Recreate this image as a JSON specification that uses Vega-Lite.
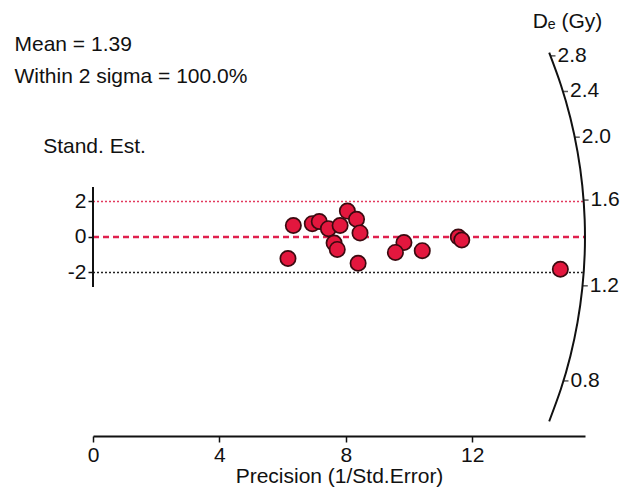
{
  "$schema": "https://vega.github.io/schema/vega-lite/v6.json",
  "width": 492,
  "height": 406,
  "autosize": "none",
  "padding": {"left": 93, "top": 30, "right": 38, "bottom": 52},
  "background": "white",
  "config": {
    "view": {"stroke": null},
    "font": "Liberation Sans",
    "axis": {"labelFont": "Liberation Sans", "titleFont": "Liberation Sans", "labelColor": "#111111", "titleColor": "#111111", "titleFontWeight": "normal", "grid": false}
  },
  "datasets": {
    "pts": [
      {"precision": 6.34, "stdEst": 0.65},
      {"precision": 6.17, "stdEst": -1.21},
      {"precision": 6.94, "stdEst": 0.75},
      {"precision": 7.16, "stdEst": 0.87},
      {"precision": 7.45, "stdEst": 0.47},
      {"precision": 7.82, "stdEst": 0.65},
      {"precision": 8.05, "stdEst": 1.46},
      {"precision": 8.34, "stdEst": 1.0},
      {"precision": 8.45, "stdEst": 0.23},
      {"precision": 7.63, "stdEst": -0.34},
      {"precision": 7.73, "stdEst": -0.7},
      {"precision": 8.39, "stdEst": -1.48},
      {"precision": 9.84, "stdEst": -0.31},
      {"precision": 9.57, "stdEst": -0.87},
      {"precision": 10.42, "stdEst": -0.77},
      {"precision": 11.56, "stdEst": 0.0},
      {"precision": 11.67, "stdEst": -0.17},
      {"precision": 14.79, "stdEst": -1.82}
    ],
    "arc": [
      {"i": 1, "x": 14.437, "y": 10.383},
      {"i": 2, "x": 14.807, "y": 8.565},
      {"i": 3, "x": 15.108, "y": 6.706},
      {"i": 4, "x": 15.333, "y": 4.813},
      {"i": 5, "x": 15.484, "y": 2.898},
      {"i": 6, "x": 15.56, "y": 0.967},
      {"i": 7, "x": 15.56, "y": -0.967},
      {"i": 8, "x": 15.484, "y": -2.898},
      {"i": 9, "x": 15.333, "y": -4.813},
      {"i": 10, "x": 15.108, "y": -6.706},
      {"i": 11, "x": 14.807, "y": -8.565},
      {"i": 12, "x": 14.437, "y": -10.383}
    ],
    "deTicks": [
      {"De": "2.8", "x": 14.478, "y": 10.203},
      {"De": "2.4", "x": 14.873, "y": 8.197},
      {"De": "2.0", "x": 15.247, "y": 5.622},
      {"De": "1.6", "x": 15.525, "y": 2.079},
      {"De": "1.2", "x": 15.5, "y": -2.75},
      {"De": "0.8", "x": 14.889, "y": -8.107}
    ],
    "yline": [{"x": 0, "y": -2.82, "y2": 2.82}],
    "plus2": [{"from": 0, "to": 15.51, "level": 2}],
    "mean": [{"from": 0, "to": 15.57, "level": 0}],
    "minus2": [{"from": 0, "to": 15.5, "level": -2}]
  },
  "layer": [
    {
      "data": {"name": "plus2"},
      "mark": {"type": "rule", "stroke": "#e23a5e", "strokeWidth": 1.6, "strokeDash": [2, 2]},
      "encoding": {
        "x": {"field": "from", "type": "quantitative", "scale": {"domain": [0, 15.57], "nice": false, "zero": false}, "axis": null},
        "x2": {"field": "to"},
        "y": {"field": "level", "type": "quantitative", "scale": {"domain": [-11.21, 11.66], "nice": false, "zero": false}, "axis": null}
      }
    },
    {
      "data": {"name": "mean"},
      "mark": {"type": "rule", "stroke": "#e0204e", "strokeWidth": 2.5, "strokeDash": [6, 4]},
      "encoding": {
        "x": {"field": "from", "type": "quantitative", "scale": {"domain": [0, 15.57], "nice": false, "zero": false}, "axis": null},
        "x2": {"field": "to"},
        "y": {"field": "level", "type": "quantitative", "scale": {"domain": [-11.21, 11.66], "nice": false, "zero": false}, "axis": null}
      }
    },
    {
      "data": {"name": "minus2"},
      "mark": {"type": "rule", "stroke": "#222222", "strokeWidth": 1.6, "strokeDash": [2, 2]},
      "encoding": {
        "x": {"field": "from", "type": "quantitative", "scale": {"domain": [0, 15.57], "nice": false, "zero": false}, "axis": null},
        "x2": {"field": "to"},
        "y": {"field": "level", "type": "quantitative", "scale": {"domain": [-11.21, 11.66], "nice": false, "zero": false}, "axis": null}
      }
    },
    {
      "data": {"name": "yline"},
      "mark": {"type": "rule", "stroke": "#111111", "strokeWidth": 2},
      "encoding": {
        "x": {"field": "x", "type": "quantitative", "scale": {"domain": [0, 15.57], "nice": false, "zero": false}, "axis": null},
        "y": {"field": "y", "type": "quantitative", "scale": {"domain": [-11.21, 11.66], "nice": false, "zero": false}, "axis": null},
        "y2": {"field": "y2"}
      }
    },
    {
      "data": {"name": "arc"},
      "mark": {"type": "line", "interpolate": "natural", "stroke": "#111111", "strokeWidth": 2},
      "encoding": {
        "x": {"field": "x", "type": "quantitative", "scale": {"domain": [0, 15.57], "nice": false, "zero": false},
          "axis": {"orient": "top", "domain": false, "ticks": false, "labels": false,
            "title": ["Mean = 1.39", "Within 2 sigma = 100.0%"], "titleAngle": 0, "titleAlign": "left", "titleBaseline": "alphabetic",
            "titleX": -79, "titleY": 20, "titleLineHeight": 32, "titleFontSize": 21}},
        "y": {"field": "y", "type": "quantitative", "scale": {"domain": [-11.21, 11.66], "nice": false, "zero": false},
          "axis": {"orient": "right", "domain": false, "ticks": false, "labels": false,
            "title": "Dₑ (Gy)", "titleAngle": 0, "titleAlign": "center", "titleBaseline": "alphabetic",
            "titleX": -18, "titleY": -3, "titleFontSize": 21}},
        "order": {"field": "i", "type": "quantitative"}
      }
    },
    {
      "data": {"name": "deTicks"},
      "mark": {"type": "tick", "orient": "horizontal", "size": 5, "thickness": 1.5, "xOffset": 2.5, "color": "#111111"},
      "encoding": {
        "x": {"field": "x", "type": "quantitative", "scale": {"domain": [0, 15.57], "nice": false, "zero": false}, "axis": null},
        "y": {"field": "y", "type": "quantitative", "scale": {"domain": [-11.21, 11.66], "nice": false, "zero": false}, "axis": null}
      }
    },
    {
      "data": {"name": "deTicks"},
      "mark": {"type": "text", "align": "left", "baseline": "middle", "dx": 7, "fontSize": 21, "font": "Liberation Sans", "color": "#111111"},
      "encoding": {
        "x": {"field": "x", "type": "quantitative", "scale": {"domain": [0, 15.57], "nice": false, "zero": false}, "axis": null},
        "y": {"field": "y", "type": "quantitative", "scale": {"domain": [-11.21, 11.66], "nice": false, "zero": false}, "axis": null},
        "text": {"field": "De", "type": "nominal"}
      }
    },
    {
      "data": {"name": "pts"},
      "mark": {"type": "circle", "size": 235, "filled": true, "fill": "#e3173e", "stroke": "#3b0a10", "strokeWidth": 1.7, "opacity": 1},
      "encoding": {
        "x": {"field": "precision", "type": "quantitative", "scale": {"domain": [0, 15.57], "nice": false, "zero": false},
          "axis": {"orient": "bottom", "values": [0, 4, 8, 12], "title": "Precision (1/Std.Error)",
            "domainColor": "#111111", "domainWidth": 2, "tickColor": "#111111", "tickWidth": 1.5, "tickSize": 6,
            "labelFontSize": 21, "labelPadding": 2, "labelFlush": false, "labelBound": false,
            "titleFontSize": 21, "titleY": 46, "titleBaseline": "alphabetic"}},
        "y": {"field": "stdEst", "type": "quantitative", "scale": {"domain": [-11.21, 11.66], "nice": false, "zero": false},
          "axis": {"orient": "left", "values": [-2, 0, 2], "domain": false, "tickColor": "#111111", "tickSize": 5, "tickWidth": 1.5,
            "labelExpr": "datum.value < 0 ? '-' + format(-datum.value, 'd') : format(datum.value, 'd')",
            "labelFontSize": 21, "labelPadding": 2, "labelFlush": false, "labelBound": false,
            "title": "Stand. Est.", "titleAngle": 0, "titleAlign": "center", "titleBaseline": "alphabetic",
            "titleX": 1, "titleY": 122, "titleFontSize": 21}}
      }
    }
  ],
  "resolve": {"axis": {"x": "independent", "y": "independent"}}
}
